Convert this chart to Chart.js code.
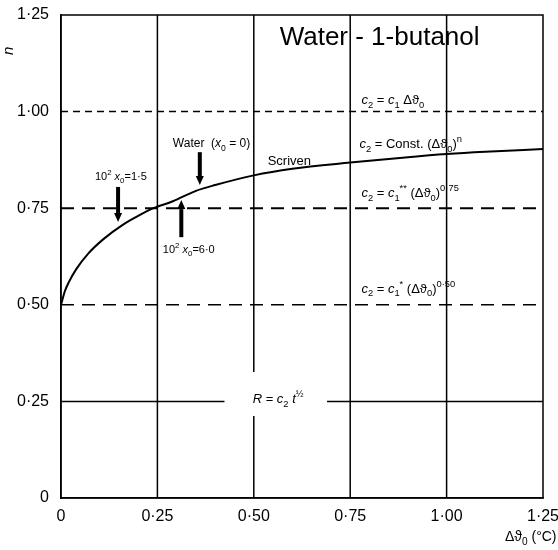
<!doctype html>
<html lang="en">
<head>
  <meta charset="utf-8">
  <title>Water - 1-butanol</title>
  <script src="https://cdn.jsdelivr.net/npm/chart.js"></script>
  <style>
    html, body { margin: 0; padding: 0; background: #fff; }
    #wrap { width: 558px; height: 550px; }
  </style>
</head>
<body>
  <div id="wrap"><canvas id="chart" width="558" height="550"></canvas></div>

  <script>
    // Scriven curve
    const dTheta = [0, 0.01, 0.02, 0.04, 0.07, 0.11, 0.16, 0.2, 0.24, 0.29, 0.35, 0.4, 0.5, 0.6, 0.75, 0.9, 1.0, 1.1, 1.25];
    const nValues = [0.5, 0.535, 0.558, 0.593, 0.632, 0.67, 0.707, 0.73, 0.75, 0.768, 0.795, 0.81, 0.835, 0.852, 0.868, 0.882, 0.89, 0.896, 0.903];

    const xTicks = ['0', '0·25', '0·50', '0·75', '1·00', '1·25'];
    const yTicks = ['0', '0·25', '0·50', '0·75', '1·00', '1·25'];

    // reference levels of n (dashed lines) and vertical grid lines
    const nLevels = [1.0, 0.75, 0.5];
    const levelDash = [[7, 5], [13, 8], [13, 8]];
    const rLevel = 0.25;            // solid, broken for the R label
    const rGap = [0.424, 0.69];
    const xGrid = [0.25, 0.5, 0.75, 1.0];
    const xGridGap = { 0.5: [0.212, 0.326] };

    // arrows: x, from n, to n
    const arrows = [
      [0.36, 0.895, 0.81],
      [0.148, 0.805, 0.714],
      [0.312, 0.675, 0.771]
    ];

    const SANS = '"Liberation Sans", Arial, sans-serif';

    // text notes in data coordinates (left edge, baseline)
    const notes = [
      { x: 0.567, y: 1.172, size: 26, parts: [['Water - 1-butanol']] },
      { x: 0.779, y: 1.02, parts: [['c', 'i'], ['2', 'sub'], [' = '], ['c', 'i'], ['1', 'sub'], [' Δϑ'], ['0', 'sub']] },
      { x: 0.774, y: 0.906, parts: [['c', 'i'], ['2', 'sub'], [' = Const. (Δϑ'], ['0', 'sub'], [')'], ['n', 'sup']] },
      { x: 0.536, y: 0.862, parts: [['Scriven']] },
      { x: 0.779, y: 0.779, parts: [['c', 'i'], ['2', 'sub'], [' = '], ['c', 'i'], ['1', 'sub'], ['**', 'sup'], [' (Δϑ'], ['0', 'sub'], [')'], ['0·75', 'sup']] },
      { x: 0.779, y: 0.531, parts: [['c', 'i'], ['2', 'sub'], [' = '], ['c', 'i'], ['1', 'sub'], ['*', 'sup'], [' (Δϑ'], ['0', 'sub'], [')'], ['0·50', 'sup']] },
      { x: 0.497, y: 0.246, parts: [['R', 'i'], [' = '], ['c', 'i'], ['2', 'sub'], [' '], ['t', 'i'], ['½', 'sup']] },
      { x: 0.29, y: 0.908, size: 12, parts: [['Water  ('], ['x', 'i'], ['0', 'sub'], [' = 0)']] },
      { x: 0.088, y: 0.823, size: 11, parts: [['10'], ['2', 'sup'], [' '], ['x', 'i'], ['0', 'sub'], ['=1·5']] },
      { x: 0.264, y: 0.634, size: 11, parts: [['10'], ['2', 'sup'], [' '], ['x', 'i'], ['0', 'sub'], ['=6·0']] }
    ];

    function drawRich(ctx, x, y, parts, size) {
      let cx = x;
      parts.forEach(([txt, kind]) => {
        let fs = size, dy = 0, style = '';
        if (kind === 'sub') { fs = size * 0.72; dy = size * 0.28; }
        if (kind === 'sup') { fs = size * 0.72; dy = -size * 0.45; }
        if (kind === 'i') style = 'italic ';
        ctx.font = style + fs + 'px ' + SANS;
        ctx.fillText(txt, cx, y + dy);
        cx += ctx.measureText(txt).width;
      });
    }

    const datasets = [{
      data: dTheta.map((v, i) => ({ x: v, y: nValues[i] })),
      borderColor: '#000', borderWidth: 2, pointRadius: 0,
      cubicInterpolationMode: 'monotone', fill: false
    }];
    nLevels.forEach((lv, i) => datasets.push({
      data: [{ x: 0, y: lv }, { x: 1.25, y: lv }],
      borderColor: '#000', borderWidth: i === 1 ? 2 : 1.5, borderDash: levelDash[i], pointRadius: 0
    }));
    datasets.push({
      data: [{ x: 0, y: rLevel }, { x: rGap[0], y: rLevel }, { x: (rGap[0] + rGap[1]) / 2, y: null }, { x: rGap[1], y: rLevel }, { x: 1.25, y: rLevel }],
      borderColor: '#000', borderWidth: 1.5, pointRadius: 0, spanGaps: false
    });
    xGrid.forEach(gx => {
      const gap = xGridGap[gx];
      const pts = gap
        ? [{ x: gx, y: 0 }, { x: gx, y: gap[0] }, { x: gx, y: null }, { x: gx, y: gap[1] }, { x: gx, y: 1.25 }]
        : [{ x: gx, y: 0 }, { x: gx, y: 1.25 }];
      datasets.push({ data: pts, borderColor: '#000', borderWidth: 1.5, pointRadius: 0, spanGaps: false });
    });

    const extras = {
      id: 'extras',
      afterDatasetsDraw(chart) {
        const { ctx, chartArea: a, scales: { x, y } } = chart;
        ctx.save();
        ctx.strokeStyle = '#000';
        ctx.lineWidth = 1.5;
        ctx.strokeRect(a.left, a.top, a.right - a.left, a.bottom - a.top);

        // arrows
        ctx.fillStyle = '#000';
        arrows.forEach(([ax, y0, y1]) => {
          const px = x.getPixelForValue(ax);
          const p0 = y.getPixelForValue(y0), p1 = y.getPixelForValue(y1);
          const dir = p1 > p0 ? 1 : -1;
          const head = 9;
          ctx.lineWidth = 4;
          ctx.beginPath();
          ctx.moveTo(px, p0);
          ctx.lineTo(px, p1 - dir * head);
          ctx.stroke();
          ctx.beginPath();
          ctx.moveTo(px - 4, p1 - dir * head);
          ctx.lineTo(px + 4, p1 - dir * head);
          ctx.lineTo(px, p1);
          ctx.closePath();
          ctx.fill();
        });

        // notes
        ctx.textBaseline = 'alphabetic';
        ctx.textAlign = 'left';
        notes.forEach(n => drawRich(ctx, x.getPixelForValue(n.x), y.getPixelForValue(n.y), n.parts, n.size || 13));

        // axis titles
        drawRich(ctx, a.right - 38, a.bottom + 43, [['Δϑ'], ['0', 'sub'], [' (°C)']], 14);
        ctx.translate(a.left - 48, a.top + 40);
        ctx.rotate(-Math.PI / 2);
        drawRich(ctx, 0, 0, [['n', 'i']], 15);
        ctx.restore();
      }
    };

    new Chart(document.getElementById('chart'), {
      type: 'line',
      data: { datasets },
      options: {
        responsive: false,
        animation: false,
        layout: { padding: { top: 15, right: 15, left: 0, bottom: 0 } },
        plugins: { legend: { display: false }, tooltip: { enabled: false } },
        scales: {
          x: {
            type: 'linear', min: 0, max: 1.25,
            afterBuildTicks: s => { s.ticks = xTicks.map((_, i) => ({ value: i * 0.25 })); },
            afterFit: s => { s.height = 52; s.paddingLeft = 0; s.paddingRight = 0; },
            grid: { display: false },
            border: { display: true, color: '#000', width: 1.5 },
            ticks: {
              color: '#000', padding: 1, maxRotation: 0,
              font: { size: 16, family: SANS },
              callback: (v, i) => xTicks[i]
            }
          },
          y: {
            min: 0, max: 1.25,
            afterBuildTicks: s => { s.ticks = yTicks.map((_, i) => ({ value: i * 0.25 })); },
            afterFit: s => { s.width = 61; s.paddingTop = 0; s.paddingBottom = 0; },
            grid: { display: false },
            border: { display: true, color: '#000', width: 1.5 },
            ticks: {
              color: '#000', padding: 4,
              font: { size: 16, family: SANS },
              callback: (v, i) => yTicks[i]
            }
          }
        }
      },
      plugins: [extras]
    });
  </script>
</body>
</html>
